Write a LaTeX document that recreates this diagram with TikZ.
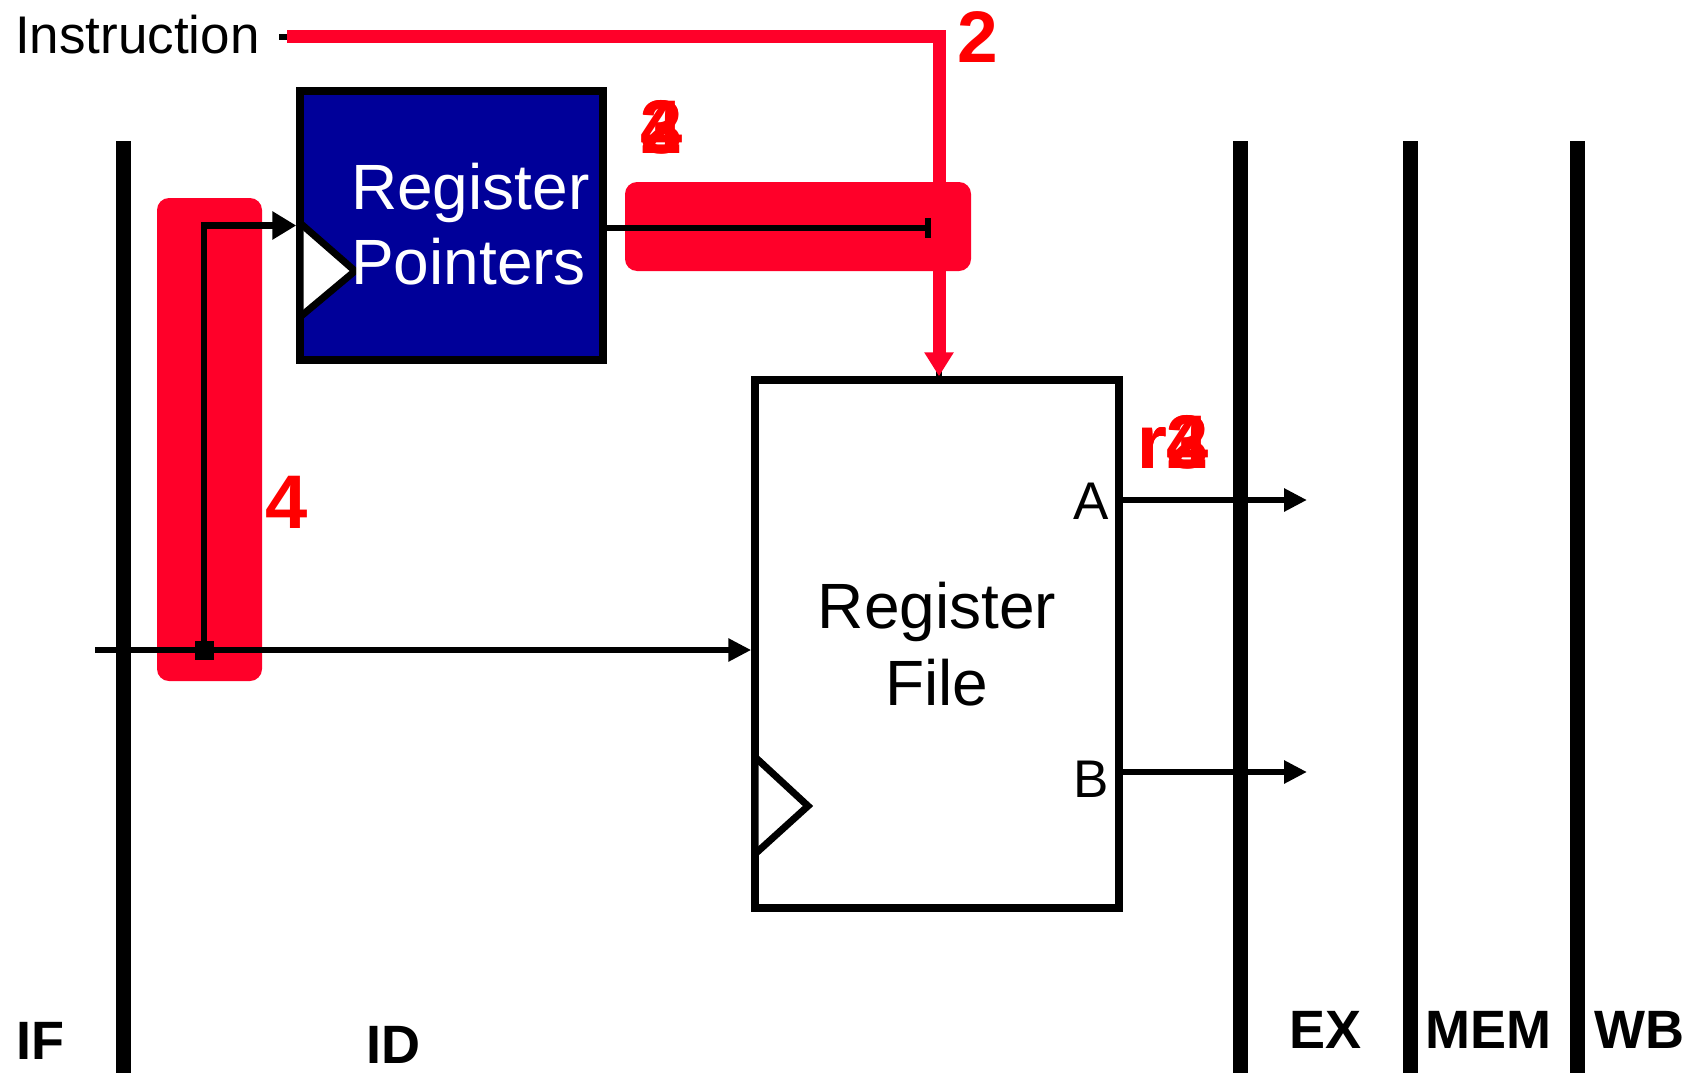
\documentclass[tikz,border=0pt]{standalone}
\usepackage{fontspec}
\setmainfont{Liberation Sans}
\usetikzlibrary{arrows.meta,calc}
\definecolor{hl}{RGB}{255,0,41}
\definecolor{navy}{RGB}{0,0,153}
\definecolor{dig}{RGB}{255,0,0}
\newcommand{\fsz}[1]{\fontsize{#1}{#1}\selectfont}
\begin{document}
\begin{tikzpicture}[x=1pt,y=-1pt,
  stage/.style={line width=15pt,black},
  wire/.style={line width=6.5pt,black},
  hot/.style={line width=13pt,hl,line join=miter},
  hlbox/.style={fill=hl,rounded corners=12pt},
  tip/.style={-{Triangle[length=23pt,width=22pt]}},
  block/.style={draw=black,line width=7.5pt,inner sep=0pt},
  clk/.style={line width=7pt,black},
  stagelbl/.style={font=\bfseries\fsz{54},inner sep=0pt,anchor=base west},
  num/.style={font=\bfseries\fsz{76},text=dig,inner sep=0pt,anchor=base},
]
\useasboundingbox (0,0) rectangle (1696,1073);

% highlight bars
\fill[hlbox] (157,198) rectangle (262,681);
\fill[hlbox] (625,182) rectangle (971,271);

% pipeline stage registers
\draw[stage] (123,141) -- (123,1073);
\draw[stage] (1240,141) -- (1240,1073);
\draw[stage] (1410,141) -- (1410,1073);
\draw[stage] (1577,141) -- (1577,1073);

% stage labels
\node[stagelbl] (lif) at (16,1059) {IF};
\node[stagelbl] (lid) at (366,1063) {ID};
\node[stagelbl] (lex) at (1289,1048) {EX};
\node[stagelbl] (lmem) at (1425,1048) {MEM};
\node[stagelbl] (lwb) at (1594,1048) {WB};

% Register Pointers
\node[block,fill=navy,minimum width=303pt,minimum height=269pt] (rp) at (451.5,225.5) {};
\fill[white] (303.5,227) -- (352,271) -- (303.5,314) -- cycle;
\draw[clk] (300,223) -- (355,271) -- (300,317);
\node[font=\fontsize{64}{75}\selectfont,text=white,align=left,inner sep=0pt,anchor=west] (rptext) at (351,224) {Register\\Pointers};

% Register File
\node[block,fill=white,minimum width=364pt,minimum height=528pt,align=center,font=\fontsize{64}{77}\selectfont] (rf) at (937,644) {Register\\File};
\fill[white] (758.5,761) -- (805,806) -- (758.5,850) -- cycle;
\draw[clk] (755,757) -- (808,806) -- (755,854);
\node[font=\fsz{53},inner sep=0pt,anchor=base] (la) at (1091,519) {A};
\node[font=\fsz{53},inner sep=0pt,anchor=base] (lb) at (1091,797) {B};

% coordinates
\coordinate (inL) at (95,650);
\coordinate (aout) at (1307,500);
\coordinate (bout) at (1307,772);
\coordinate (rpend) at (931,228);
\coordinate (istart) at (279,37);
\coordinate (rstart) at (287,37);
\coordinate (icorner) at (939,37);

% junction
\node[fill=black,minimum size=19pt,inner sep=0pt] (jn) at (204,650) {};

% wires
\draw[wire,tip] (inL) -- (inL -| rf.west);
\draw[wire,-{Triangle[length=24pt,width=27pt]}] (jn.center) |- (rp.west);
\draw[wire,-{Bar[width=20pt]}] (rp.east |- rpend) -- (rpend);
\draw[wire,tip] (rf.east |- aout) -- (aout);
\draw[wire,tip] (rf.east |- bout) -- (bout);

% instruction
\node[font=\fsz{53},inner sep=0pt,anchor=base west] (instr) at (15,53) {Instruction};
\draw[wire] (istart) -- (icorner) -- (icorner |- rf.north);
\draw[hot,-{Triangle[length=24pt,width=28pt]}] (rstart) -- (icorner) -- (icorner |- rf.north);

% numbers
\node[num,font=\bfseries\fsz{73}] (ntop) at (978,63) {2};
\node[num] (n4) at (287,528) {4};
\node[num] (na2) at (662,153) {2};
\node[num] (na3) at (662,153) {3};
\node[num] (na4) at (662,153) {4};
\node[num,anchor=base west] (nr2) at (1137,468) {r2};
\node[num,anchor=base west] (nr3) at (1137,468) {r3};
\node[num,anchor=base west] (nr4) at (1137,468) {r4};
\end{tikzpicture}
\end{document}
